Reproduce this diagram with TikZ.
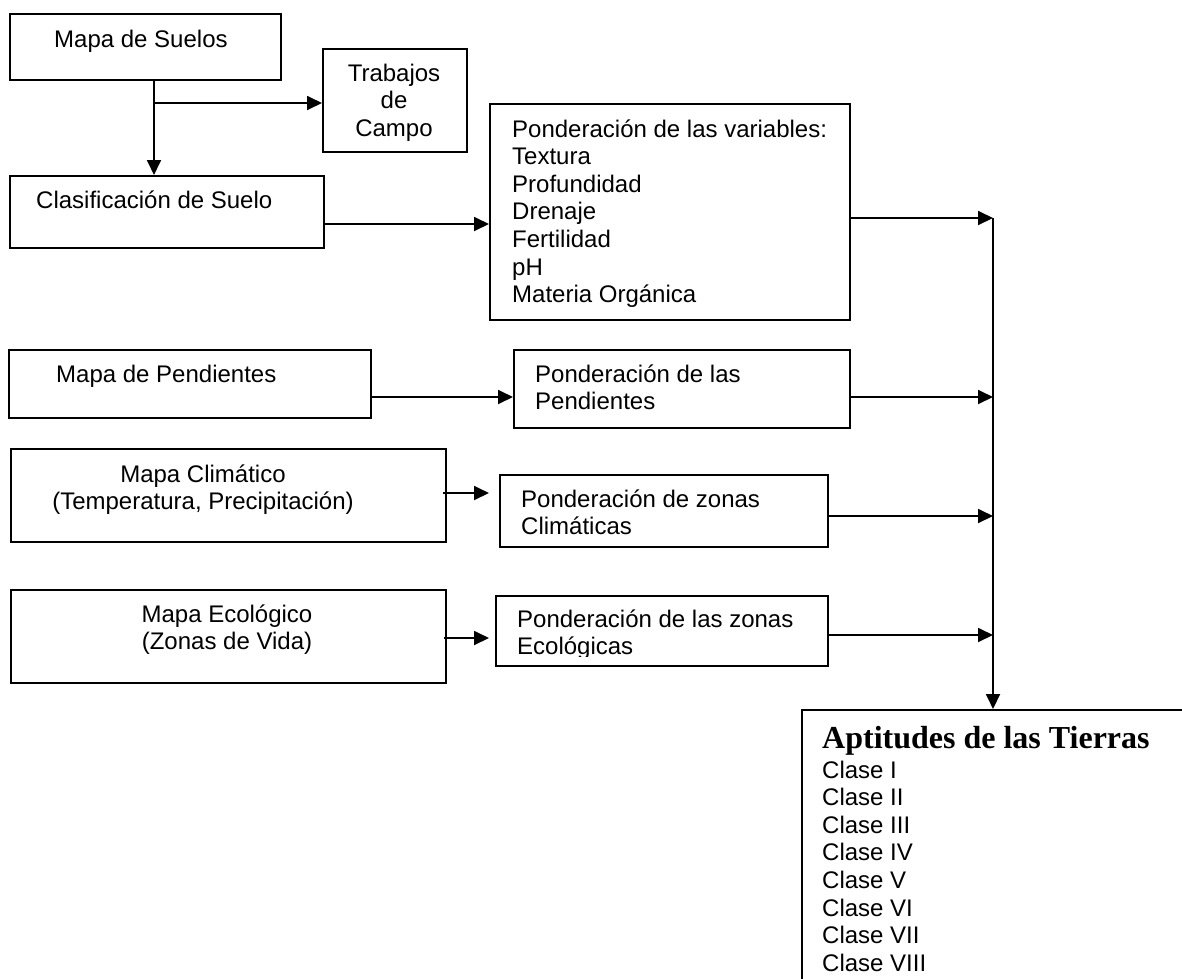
\documentclass[tikz,border=0pt]{standalone}
\usepackage{fontspec}
\setmainfont{Liberation Sans}
\newfontfamily\titlefont{Liberation Serif}
\usetikzlibrary{arrows.meta,calc}

\newcommand{\leftlines}[1]{\begin{tabular}[t]{@{}l@{}}#1\end{tabular}}
\newcommand{\midlines}[1]{\begin{tabular}[t]{@{}c@{}}#1\end{tabular}}

\begin{document}
\begin{tikzpicture}[x=1pt,y=-1pt,
  box/.style={draw, line width=1.8pt, inner sep=0pt, anchor=north west},
  txt/.style={inner sep=0pt, anchor=base west, font=\fontsize{24}{27.6}\selectfont},
  ctxt/.style={txt, anchor=base},
  link/.style={line width=1.8pt, -{Triangle[length=15pt,width=14pt]}}
]
\clip (0,0) rectangle (1182,978);
\fill[white] (0,0) rectangle (1182,978);

% boxes
\node[box, minimum width=271pt, minimum height=66pt]  (suelos) at (9,13) {};
\node[box, minimum width=144pt, minimum height=103pt] (trab)   at (322,48) {};
\node[box, minimum width=314pt, minimum height=72pt]  (clas)   at (9,175) {};
\node[box, minimum width=360pt, minimum height=216pt] (vars)   at (489,103) {};
\node[box, minimum width=362pt, minimum height=68pt]  (mpend)  at (8,349) {};
\node[box, minimum width=336pt, minimum height=78pt]  (ppend)  at (513,349) {};
\node[box, minimum width=435pt, minimum height=93pt]  (mclim)  at (10,448) {};
\node[box, minimum width=328pt, minimum height=72pt]  (pclim)  at (499,474) {};
\node[box, minimum width=435pt, minimum height=93pt]  (meco)   at (10,589) {};
\node[box, minimum width=332pt, minimum height=70pt]  (peco)   at (495,595) {};
\node[box, minimum width=500pt, minimum height=400pt] (apt)    at (801,709) {};

% texts
\node[txt]  (tsuelos) at (54,47)  {Mapa de Suelos};
\node[ctxt] (ttrab)   at (394,81) {\midlines{Trabajos\\de\\Campo}};
\node[txt]  (tclas)   at (36,208) {Clasificación de Suelo};
\node[txt]  (tvars)   at (512,137) {\leftlines{Ponderación de las variables:\\Textura\\Profundidad\\Drenaje\\Fertilidad\\pH\\Materia Orgánica}};
\node[txt]  (tmpend)  at (56,382) {Mapa de Pendientes};
\node[txt]  (tppend)  at (535,382) {\leftlines{Ponderación de las\\Pendientes}};
\node[ctxt] (tmclim)  at (203,482) {\midlines{Mapa Climático\\(Temperatura, Precipitación)}};
\node[txt]  (tpclim)  at (521,507) {\leftlines{Ponderación de zonas\\Climáticas}};
\node[ctxt] (tmeco)   at (227,622) {\midlines{Mapa Ecológico\\(Zonas de Vida)}};
% the text frame of this box cuts its last line just below the baseline
\begin{scope}
  \clip (peco.north west) rectangle (827,656);
  \node[txt] (tpeco) at (517,627) {\leftlines{Ponderación de las zonas\\Ecológicas}};
\end{scope}
\node[inner sep=0pt, anchor=base west, font=\titlefont\bfseries\fontsize{32}{36}\selectfont] (tapt) at (822,748) {Aptitudes de las Tierras};
\node[txt]  (tclases) at (822,778) {\leftlines{Clase I\\Clase II\\Clase III\\Clase IV\\Clase V\\Clase VI\\Clase VII\\Clase VIII}};

% connector heights
\coordinate (c1) at (154,103);
\coordinate (c2) at (0,224);
\coordinate (c3) at (0,218);
\coordinate (c4) at (0,397);
\coordinate (c5) at (0,493);
\coordinate (c6) at (0,516);
\coordinate (c7) at (0,638);
\coordinate (c8) at (0,635);
\coordinate (bus) at (993,0);

% connectors
\draw[link] (c1 |- suelos.south) -- (c1 |- clas.north);
\draw[link] (c1) -- (c1 -| trab.west);
\draw[link] (clas.east |- c2) -- (vars.west |- c2);
\draw[link] (vars.east |- c3) -- (bus |- c3);
\draw[link] (mpend.east |- c4) -- (ppend.west |- c4);
\draw[link] (ppend.east |- c4) -- (bus |- c4);
\draw[link] ($(mclim.east |- c5)+(-4,0)$) -- ($(pclim.west |- c5)+(-10,0)$);
\draw[link] (pclim.east |- c6) -- (bus |- c6);
\draw[link] ($(meco.east |- c7)+(-3,0)$) -- ($(peco.west |- c7)+(-6,0)$);
\draw[link] (peco.east |- c8) -- (bus |- c8);
\draw[link] (bus |- c3) -- (bus |- apt.north);
\end{tikzpicture}
\end{document}
